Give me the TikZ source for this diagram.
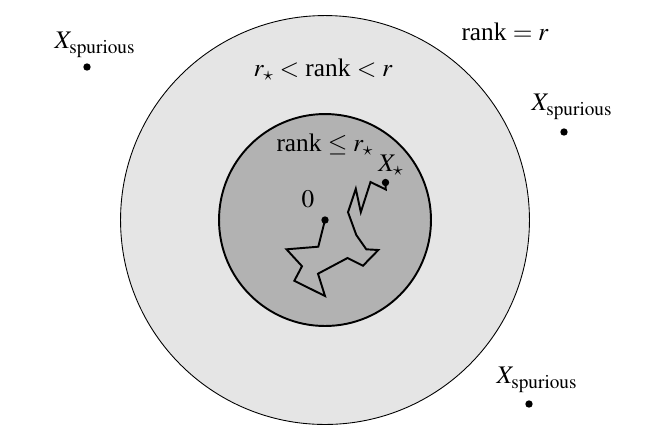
\documentclass[tikz,border=0pt]{standalone}
\usepackage{amsmath}
\usepackage{mathptmx}
\usepackage{fontspec}
\setmainfont{Liberation Serif}
\usetikzlibrary{positioning}

\begin{document}
\begin{tikzpicture}[
        x=0.02cm, y=-0.02cm,
        dot/.style={circle, fill=black, inner sep=0pt, minimum size=4.2pt},
        lbl/.style={font=\Large, inner sep=1pt},
        outerring/.style={draw, line width=0.5pt, fill=black!10},
        innerring/.style={draw, line width=1.1pt, fill=black!30},
        walk/.style={line width=1.1pt, line join=miter}
    ]
        \useasboundingbox (0,0) rectangle (656,441);
        % rank regions
        \path[outerring] (325,220) circle[radius=4.09cm];
        \path[innerring] (325,220) circle[radius=2.12cm];
        \node[lbl] (rankr) at (505,32) {rank $= r$};
        \node[lbl] (rankmid) at (323,70) {$r_\star <$ rank $< r$};
        \node[lbl] (ranklow) at (325,145) {rank $\leq r_\star$};
        % start and target
        \node[dot] (zero) at (325,220) {};
        \node[lbl] (zerolbl) at (308,199) {$0$};
        \node[dot] (xstar) at (385.5,182.5) {};
        \node[lbl] (xstarlbl) at (391,165) {$X_\star$};
        \draw[walk] (zero.center) -- (318.3,246.7) -- (286.5,249.3) -- (302,266.2)
            -- (294.3,280.8) -- (325,296) -- (318,273.7) -- (347.5,258)
            -- (363,265.7) -- (378.3,250) -- (366.3,249.3) -- (356.3,235)
            -- (348,212.2) -- (355.8,188.8) -- (360.8,212.2) -- (370.5,182)
            -- (385.8,189.5) -- (xstar.center);
        % spurious points
        \node[dot] (spa) at (87,67) {};
        \node[lbl] (spalbl) at (95,45) {$X_{\mathrm{spurious}}$};
        \node[dot] (spb) at (564,132) {};
        \node[lbl] (spblbl) at (572,107) {$X_{\mathrm{spurious}}$};
        \node[dot] (spc) at (529,404) {};
        \node[lbl] (spclbl) at (537,380) {$X_{\mathrm{spurious}}$};
    \end{tikzpicture}
\end{document}
